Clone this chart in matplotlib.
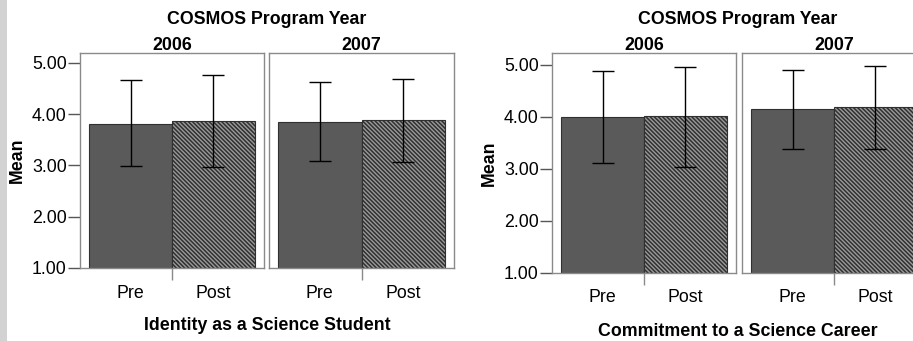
import matplotlib
matplotlib.use("Agg")
import matplotlib.pyplot as plt
from matplotlib.patches import Rectangle

plt.rcParams["font.family"] = ["Liberation Sans", "DejaVu Sans"]
plt.rcParams["hatch.linewidth"] = 1.1

W, H = 913, 341
FS = 12.8

years = ["2006", "2007"]
phases = ["Pre", "Post"]

# Identity as a Science Student (means and error bar ends per year)
identity_pre = [3.81, 3.85]
identity_post = [3.87, 3.88]
identity_pre_lo = [2.99, 3.08]
identity_pre_hi = [4.66, 4.62]
identity_post_lo = [2.97, 3.07]
identity_post_hi = [4.77, 4.68]

# Commitment to a Science Career
career_pre = [4.00, 4.15]
career_post = [4.01, 4.19]
career_pre_lo = [3.11, 3.39]
career_pre_hi = [4.89, 4.91]
career_post_lo = [3.04, 3.38]
career_post_hi = [4.97, 4.98]

SOLID = "#5a5a5a"
HATCH_FACE = "#9a9a9a"
EDGE = "#303030"
FRAME = "#8a8a8a"


def rect(x0, x1, y0, y1):
    return [x0 / W, 1 - y1 / H, (x1 - x0) / W, (y1 - y0) / H]


def draw_chart(fig, panels, ytop, pre, post, pre_lo, pre_hi, post_lo, post_hi,
               title_x, xlabel, xlabel_y, ylabel_x):
    for i, (x0, x1, y0, y1) in enumerate(panels):
        ax = fig.add_axes(rect(x0, x1, y0, y1))
        means = [pre[i], post[i]]
        los = [pre_lo[i], post_lo[i]]
        his = [pre_hi[i], post_hi[i]]
        ax.bar([0], [means[0] - 1], bottom=1, width=1, color=SOLID,
               edgecolor=EDGE, linewidth=0.8)
        ax.bar([1], [means[1] - 1], bottom=1, width=1, color=HATCH_FACE,
               edgecolor=EDGE, linewidth=0.8, hatch="\\\\\\\\\\\\\\\\")
        yerr = [[m - lo for m, lo in zip(means, los)],
                [hi - m for m, hi in zip(means, his)]]
        ax.errorbar([0, 1], means, yerr=yerr, fmt="none", ecolor="black",
                    elinewidth=1.0, capsize=8, capthick=1.0)
        ax.set_xlim(-0.61, 1.61)
        ax.set_ylim(1, ytop)
        for s in ax.spines.values():
            s.set_color(FRAME)
            s.set_linewidth(1.0)
        ax.set_xticks([0, 1])
        ax.set_xticklabels(phases, fontsize=FS)
        ax.tick_params(axis="x", which="major", length=0, pad=12)
        ax.set_xticks([0.5], minor=True)
        ax.tick_params(axis="x", which="minor", length=8.6, width=1,
                       color=FRAME, direction="out")
        ax.set_yticks([1, 2, 3, 4, 5])
        if i == 0:
            ax.set_yticklabels(["1.00", "2.00", "3.00", "4.00", "5.00"],
                               fontsize=FS)
            ax.tick_params(axis="y", length=8.6, width=1, color="#555555",
                           pad=1)
        else:
            ax.tick_params(axis="y", length=0, labelleft=False)
        ax.text(0.5, 1 + 8 / (y1 - y0), years[i], transform=ax.transAxes,
                ha="center", va="center", fontsize=FS, fontweight="bold")
    fig.text(title_x / W, 1 - 19 / H, "COSMOS Program Year", ha="center",
             va="center", fontsize=FS, fontweight="bold")
    fig.text(title_x / W, 1 - xlabel_y / H, xlabel, ha="center",
             va="center", fontsize=FS, fontweight="bold")
    y_mid = (panels[0][2] + panels[0][3]) / 2
    fig.text(ylabel_x / W, 1 - y_mid / H, "Mean", ha="center", va="center",
             rotation=90, fontsize=FS, fontweight="bold")


fig = plt.figure(figsize=(W / 100, H / 100), dpi=100)

# slide edge strip on the left
fig.patches.append(Rectangle((0, 0), 7 / W, 1, transform=fig.transFigure,
                             facecolor="#d2d2d2", edgecolor="none"))

draw_chart(fig, [(80, 264, 53, 268), (269, 454, 53, 268)], 5.195,
           identity_pre, identity_post, identity_pre_lo, identity_pre_hi,
           identity_post_lo, identity_post_hi,
           267, "Identity as a Science Student", 326, 17)

draw_chart(fig, [(552, 736, 53.3, 272.7), (742, 926, 53.3, 272.7)], 5.225,
           career_pre, career_post, career_pre_lo, career_pre_hi,
           career_post_lo, career_post_hi,
           738, "Commitment to a Science Career", 331, 489)

fig.savefig("out.png", dpi=100)
